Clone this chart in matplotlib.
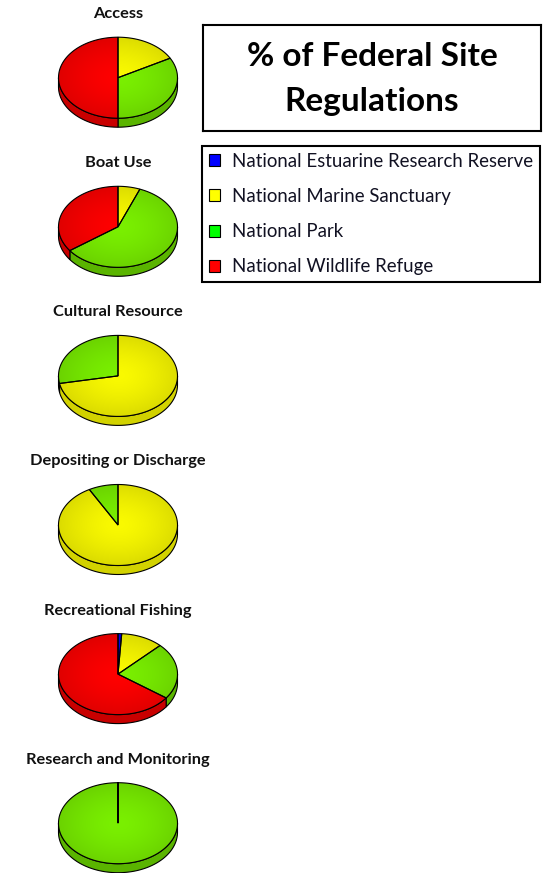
import matplotlib.pyplot as plt
import numpy as np
from matplotlib.patches import Polygon, Patch

W, H = 547, 873

categories = ['Access', 'Boat Use', 'Cultural Resource', 'Depositing or Discharge',
              'Recreational Fishing', 'Research and Monitoring']
estuarine = [0, 0, 0, 0, 1, 0]
marine = [17, 6, 72, 92, 11.5, 0]
park = [33, 59, 28, 8, 22.5, 100]
refuge = [50, 35, 0, 0, 65, 0]

series_names = ['National Estuarine Research Reserve', 'National Marine Sanctuary',
                'National Park', 'National Wildlife Refuge']
legend_colors = ['#0000FF', '#FFFF00', '#00FF00', '#FF0000']
top_colors = [(0, 0, 255), (250, 250, 0), (122, 240, 0), (255, 0, 0)]
side_colors = ['#0000B0', '#D2D200', '#5AB400', '#C80000']

plt.rcParams['font.family'] = ['Lato', 'DejaVu Sans']

# pie geometry in pixels
RX, RY, DEPTH = 59.5, 40.5, 9.0


def fig_box(left, top, width, height):
    return [left / W, 1 - (top + height) / H, width / W, height / H]


def arc(t0, t1):
    n = int(abs(t1 - t0) / (2 * np.pi) * 240) + 2
    t = np.linspace(t0, t1, n)
    return RX * np.sin(t), RY * np.cos(t)


def draw_pie(ax, values, title):
    fracs = np.asarray(values, float) / np.sum(values)
    bounds = np.concatenate([[0], np.cumsum(fracs)]) * 2 * np.pi

    # side wall, only the front half is visible
    for i in range(len(fracs)):
        t0, t1 = max(bounds[i], np.pi / 2), min(bounds[i + 1], 1.5 * np.pi)
        if fracs[i] == 0 or t1 <= t0:
            continue
        x, y = arc(t0, t1)
        pts = np.column_stack([np.r_[x, x[::-1]], np.r_[y, y[::-1] - DEPTH]])
        ax.add_patch(Polygon(pts, closed=True, fc=side_colors[i], ec='black', lw=0.8, zorder=1))

    # top face with a soft radial shading
    gx, gy = np.meshgrid(np.linspace(-RX, RX, 200), np.linspace(-RY, RY, 140))
    r = np.clip(np.hypot(gx / RX, gy / RY), 0, 1)
    shade = 1.0 - 0.12 * r ** 1.5
    for i in range(len(fracs)):
        if fracs[i] == 0:
            continue
        x, y = arc(bounds[i], bounds[i + 1])
        wedge = Polygon(np.column_stack([np.r_[0, x], np.r_[0, y]]), closed=True,
                        fc='none', ec='black', lw=0.8, zorder=3)
        ax.add_patch(wedge)
        img = np.clip(shade[..., None] * np.array(top_colors[i]) / 255, 0, 1)
        im = ax.imshow(img, extent=(-RX, RX, -RY, RY), origin='lower', aspect='auto',
                       interpolation='bilinear', zorder=2)
        im.set_clip_path(wedge)

    ax.text(0, 63.5, title, ha='center', va='center', fontsize=11.8, fontweight='bold',
            color='#111111')
    ax.set_xlim(-66, 66)
    ax.set_ylim(-56, 74)
    ax.axis('off')


fig = plt.figure(figsize=(W / 100, H / 100), dpi=100)

data = np.array([estuarine, marine, park, refuge]).T
for k, (name, values) in enumerate(zip(categories, data)):
    cy = 77.7 + 149.1 * k
    ax = fig.add_axes(fig_box(118 - 66, cy - 74, 132, 130))
    draw_pie(ax, values, name)

# title box
tax = fig.add_axes(fig_box(203, 25, 338, 106))
tax.set_xticks([])
tax.set_yticks([])
for s in tax.spines.values():
    s.set_linewidth(1.5)
tax.text(0.5, 0.49, '% of Federal Site\nRegulations', ha='center', va='center',
         fontsize=24, fontweight='bold', linespacing=1.65, transform=tax.transAxes)

handles = [Patch(fc=c, ec='black', lw=0.8) for c in legend_colors]
leg = fig.legend(handles, series_names, loc='upper left',
                 bbox_to_anchor=(202 / W, 1 - 146 / H), borderaxespad=0,
                 frameon=True, fancybox=False, edgecolor='black', framealpha=1,
                 fontsize=13.4, handlelength=0.6, handleheight=0.6,
                 handletextpad=0.65, labelspacing=0.98, borderpad=0.36)
leg.get_frame().set_linewidth(1.5)
for t in leg.get_texts():
    t.set_color('#111122')

fig.savefig('out.png', dpi=100)
